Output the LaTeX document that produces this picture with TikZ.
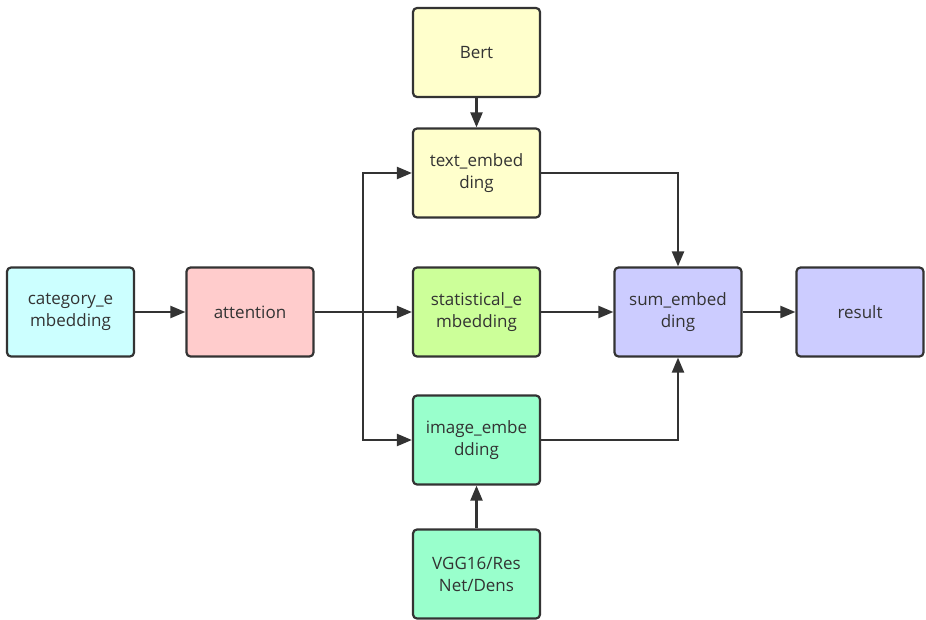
\documentclass[tikz,border=0pt]{standalone}
\usepackage{fontspec}
\setmainfont{Open Sans}
\usetikzlibrary{arrows.meta}
\definecolor{edge}{HTML}{333333}
\definecolor{ink}{HTML}{333333}
\definecolor{cyanfill}{HTML}{CCFFFF}
\definecolor{pinkfill}{HTML}{FFCCCC}
\definecolor{yellowfill}{HTML}{FFFFCC}
\definecolor{limefill}{HTML}{CCFF99}
\definecolor{mintfill}{HTML}{99FFCC}
\definecolor{lavfill}{HTML}{CCCCFF}
\begin{document}
\begin{tikzpicture}[x=1pt,y=-1pt,
  block/.style={draw=edge, line width=2.2pt, rounded corners=4pt,
    minimum width=127pt, minimum height=89pt, align=center,
    text=ink, font=\fontsize{17}{22}\selectfont, inner sep=0pt},
  link/.style={draw=edge, line width=2.2pt,
    -{Triangle[length=15pt,width=12pt]}}]
  \useasboundingbox (0,0) rectangle (926,620);
  % blocks
  \node[block, fill=cyanfill]   (cat)  at (70.5,312)  {category\_e\\mbedding};
  \node[block, fill=pinkfill]   (att)  at (250,312)   {attention};
  \node[block, fill=yellowfill] (bert) at (476.5,52.5) {Bert};
  \node[block, fill=yellowfill] (txt)  at (476.5,173) {text\_embed\\ding};
  \node[block, fill=limefill]   (stat) at (476.5,312) {statistical\_e\\mbedding};
  \node[block, fill=mintfill]   (img)  at (476.5,440) {image\_embe\\dding};
  \node[block, fill=mintfill]   (vgg)  at (476.5,574) {VGG16/Res\\Net/Dens};
  \node[block, fill=lavfill]    (sum)  at (678,312)   {sum\_embed\\ding};
  \node[block, fill=lavfill]    (res)  at (860,312)   {result};
  % branching point after attention
  \coordinate (split) at (363,312);
  % connectors
  \draw[link] (cat) -- (att);
  \draw[link] (att) -- (stat);
  \draw[link] (split) |- (txt.west);
  \draw[link] (split) |- (img.west);
  \draw[link] (bert) -- (txt);
  \draw[link] (vgg) -- (img);
  \draw[link] (txt.east) -| (sum.north);
  \draw[link] (img.east) -| (sum.south);
  \draw[link] (stat) -- (sum);
  \draw[link] (sum) -- (res);
\end{tikzpicture}
\end{document}
